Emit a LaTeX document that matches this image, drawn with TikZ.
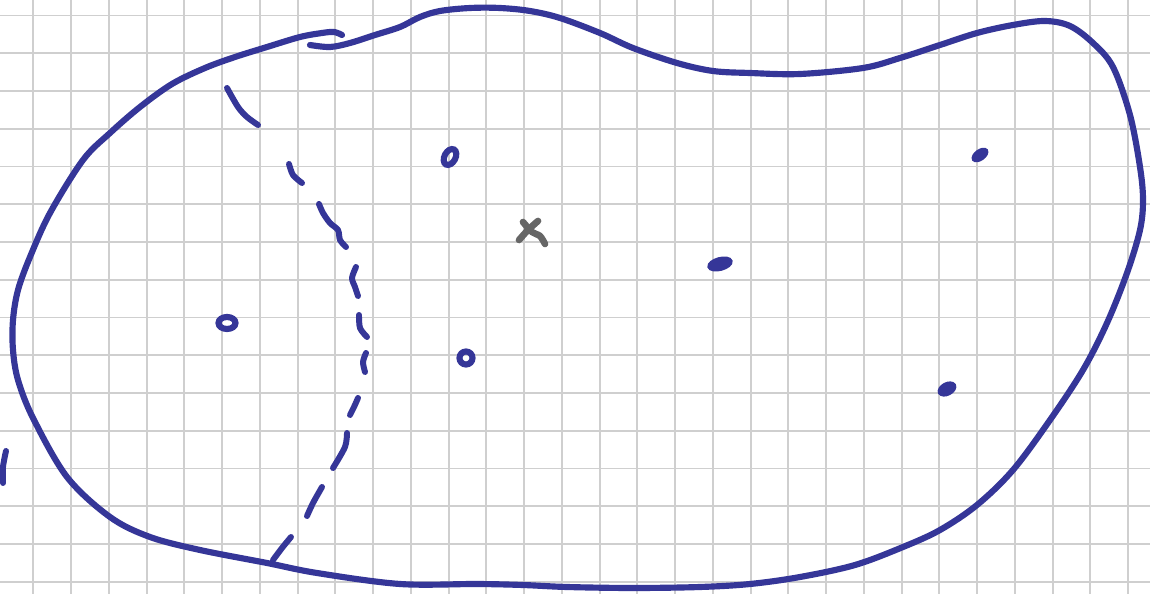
\documentclass[tikz,border=0pt]{standalone}
\definecolor{ink}{RGB}{53,54,152}
\definecolor{pencil}{RGB}{102,102,102}
\definecolor{gridc}{RGB}{207,207,207}
\begin{document}
\begin{tikzpicture}[x=0.02cm,y=-0.02cm,
  pen/.style={draw=ink,line width=3.5pt,line cap=round,line join=round},
  dashpen/.style={draw=ink,line width=3.4pt,line cap=round,line join=round},
  ring/.style={draw=ink,line width=3.5pt},
  blob/.style={fill=ink,draw=ink,line width=2.2pt},
  gray/.style={draw=pencil,line width=3.8pt,line cap=round,line join=round}]
\useasboundingbox (0,0) rectangle (1150,594);
\fill[white] (0,0) rectangle (1150,594);
% grid
\foreach \k in {0,...,29} \draw[gridc,line width=1.1pt] ({33.3+37.75*\k},0) -- ({33.3+37.75*\k},594);
\foreach \k in {0,...,15} \draw[gridc,line width=1.1pt] (0,{15.5+37.75*\k}) -- (1150,{15.5+37.75*\k});
% main outline
\draw[pen] plot[smooth,tension=0.55] coordinates {
(310,45) (330,47) (350,43) (375,35) (400,27) (420,17) (440,11) (470,8) (500,8) (530,11) (560,18) (600,33) (633,48) (677,63) (713,71) (750,73) (800,74) (863,68) (900,58) (940,45) (977,33) (1013,25) (1045,21) (1070,26) (1093,43) (1113,67) (1130,115) (1140,167) (1143,200) (1140,230) (1127,273) (1107,323) (1083,370) (1050,420) (1013,470) (977,505) (940,530) (903,547) (855,565) (800,577) (750,584) (700,587) (633,588) (567,587) (523,585) (477,584) (400,584) (317,573) (267,563) (200,550) (150,537) (110,517) (67,477) (33,418) (18,380) (13,350) (13,320) (18,290) (30,257) (50,213) (83,160) (110,133) (140,107) (172,84) (205,68) (235,57) (267,47) (300,37) (322,33) (334,32) (342,35)};
% dashed boundary
\draw[dashpen] plot[smooth] coordinates {(227,88) (238,107) (247,117) (258,125)};
\draw[dashpen] plot[smooth] coordinates {(289,164) (293,175) (302,183)};
\draw[dashpen] plot[smooth] coordinates {(319,204) (323,213) (330,223) (338,230) (340,240) (346,247)};
\draw[dashpen] plot[smooth] coordinates {(356,267) (352,278) (355,287) (358,296)};
\draw[dashpen] plot[smooth] coordinates {(359,315) (360,328) (367,337)};
\draw[dashpen] plot[smooth] coordinates {(366,353) (363,362) (365,372)};
\draw[dashpen] plot[smooth] coordinates {(358,398) (354,407) (350,415)};
\draw[dashpen] plot[smooth] coordinates {(347,433) (345,447) (333,468)};
\draw[dashpen] plot[smooth] coordinates {(322,487) (313,503) (307,516)};
\draw[dashpen] plot[smooth] coordinates {(291,537) (282,548) (273,560)};
% left edge mark
\draw[dashpen] plot[smooth] coordinates {(6,451) (3,467) (3,483)};
% hollow points
\draw[ring] (450,157) ellipse [x radius=5.5, y radius=8.5, rotate=-28];
\draw[ring] (466,358) circle [radius=6.5];
\draw[ring] (227,323) ellipse [x radius=8.5, y radius=6];
% filled points
\draw[blob] (720,264) ellipse [x radius=11, y radius=5, rotate=15];
\draw[blob] (980,155) ellipse [x radius=7.5, y radius=3.8, rotate=36];
\draw[blob] (947,389) ellipse [x radius=8, y radius=4.8, rotate=28];
% the x
\draw[gray] plot[smooth] coordinates {(523,222) (532,232) (540,236) (545,244)};
\draw[gray] plot[smooth] coordinates {(538,221) (528,230) (519,240)};
\end{tikzpicture}
\end{document}
